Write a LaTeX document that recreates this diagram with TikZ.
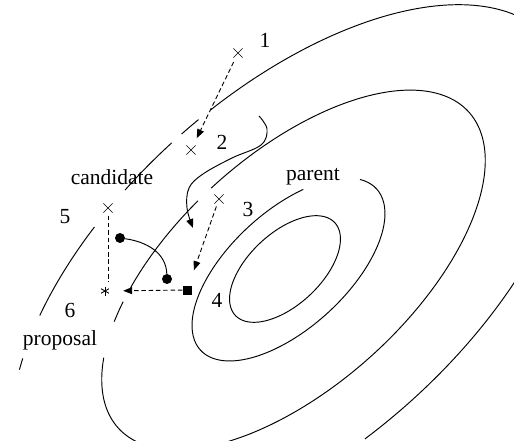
\documentclass[tikz,border=0pt]{standalone}
\usepackage{fontspec}
\setmainfont{Liberation Serif}
\usetikzlibrary{arrows.meta,shapes.misc}
\tikzset{
  contour/.style={line width=0.95pt},
  xmark/.style={cross out, draw, line width=0.7pt, minimum size=8.5pt, inner sep=0pt},
  lbl/.style={font=\fontsize{21.5}{25}\selectfont, inner sep=0pt},
  dsh/.style={line width=0.9pt, dash pattern=on 4.5pt off 2.8pt},
  tipa/.style={-{Triangle[length=9pt,width=7pt]}},
  dot/.style={circle, fill, inner sep=0pt, minimum size=10pt},
  sqr/.style={rectangle, fill, inner sep=0pt, minimum size=9pt},
  starnode/.style={circle, inner sep=0pt, minimum size=9pt},
}
\newcommand{\ctr}[4]{\draw[contour] plot[domain=#3:#4, samples=90, smooth, variable=\t] ({#1*cos(\t)},{#2*sin(\t)});}

\begin{document}
\begin{tikzpicture}[x=1pt,y=1pt]
\useasboundingbox (0,0) rectangle (514,440);
% contour lines
\begin{scope}
  \clip (0,0) rectangle (514,440);
  \begin{scope}[shift={(285,171)},rotate=43]
    \ctr{68}{36}{0}{360}
  \end{scope}
  \begin{scope}[shift={(288.5,170.5)},rotate=42.5]
    \ctr{119.4}{58.5}{57}{378}
  \end{scope}
  \begin{scope}[shift={(293.5,170)},rotate=42]
    \ctr{236}{116}{96}{124.3}
    \ctr{236}{116}{128.8}{135.3}
    \ctr{236}{116}{147.8}{451.6}
  \end{scope}
  \begin{scope}[shift={(293.5,170)},rotate=42]
    \ctr{345}{176}{139}{141.6}
    \ctr{345}{176}{110.2}{129.4}
    \ctr{345}{176}{90.9}{102}
    \ctr{345}{176}{85}{88.7}
    \ctr{345}{176}{-100}{82.4}
  \end{scope}
\end{scope}

% markers
\node[xmark] (m1) at (238,387) {};
\node[xmark] (m2) at (191,290) {};
\node[xmark] (m3) at (219,241) {};
\node[xmark] (m5) at (108,232) {};
\node[sqr] (sq) at (187,150) {};
\node[starnode] (st) at (105,149) {};
\foreach \a in {90,30,150}
  \draw[line width=0.85pt] ([shift={(\a:4.5)}]st.center) -- ([shift={(\a+180:4.5)}]st.center);
\node[dot] (c1) at (120,202) {};
\node[dot] (c2) at (167,161) {};

% labels
\node[lbl] (l1) at (265,400) {1};
\node[lbl] (l2) at (222,298) {2};
\node[lbl] (l3) at (248,231) {3};
\node[lbl] (l4) at (217,140) {4};
\node[lbl] (l5) at (65,223) {5};
\node[lbl] (l6) at (70,130) {6};
\node[lbl] (lcand) at (112,263) {candidate};
\node[lbl] (lpar) at (313,263) {parent};
\node[lbl] (lprop) at (60,100) {proposal};

% connectors
\draw[dsh,tipa,shorten <=5pt,shorten >=8pt] (m1) -- (m2);
\draw[dsh,tipa,shorten <=3pt,shorten >=16pt] (m3) -- (sq);
\draw[dsh,tipa,shorten >=13.5pt] (sq) -- (st);
\draw[dsh,shorten <=3pt,shorten >=4pt] (m5.south) -- (m5.south |- st.north);
\draw[line width=0.95pt] (c1) to[out=-8,in=92] (c2);
\coordinate (h0) at (259,324);
\coordinate (h1) at (193,212);
\draw[line width=0.95pt,tipa] plot[smooth, tension=0.6] coordinates {(h0) (267,311) (261,295) (232,282) (203,266) (189,252) (187,232) (h1)};
\end{tikzpicture}
\end{document}
